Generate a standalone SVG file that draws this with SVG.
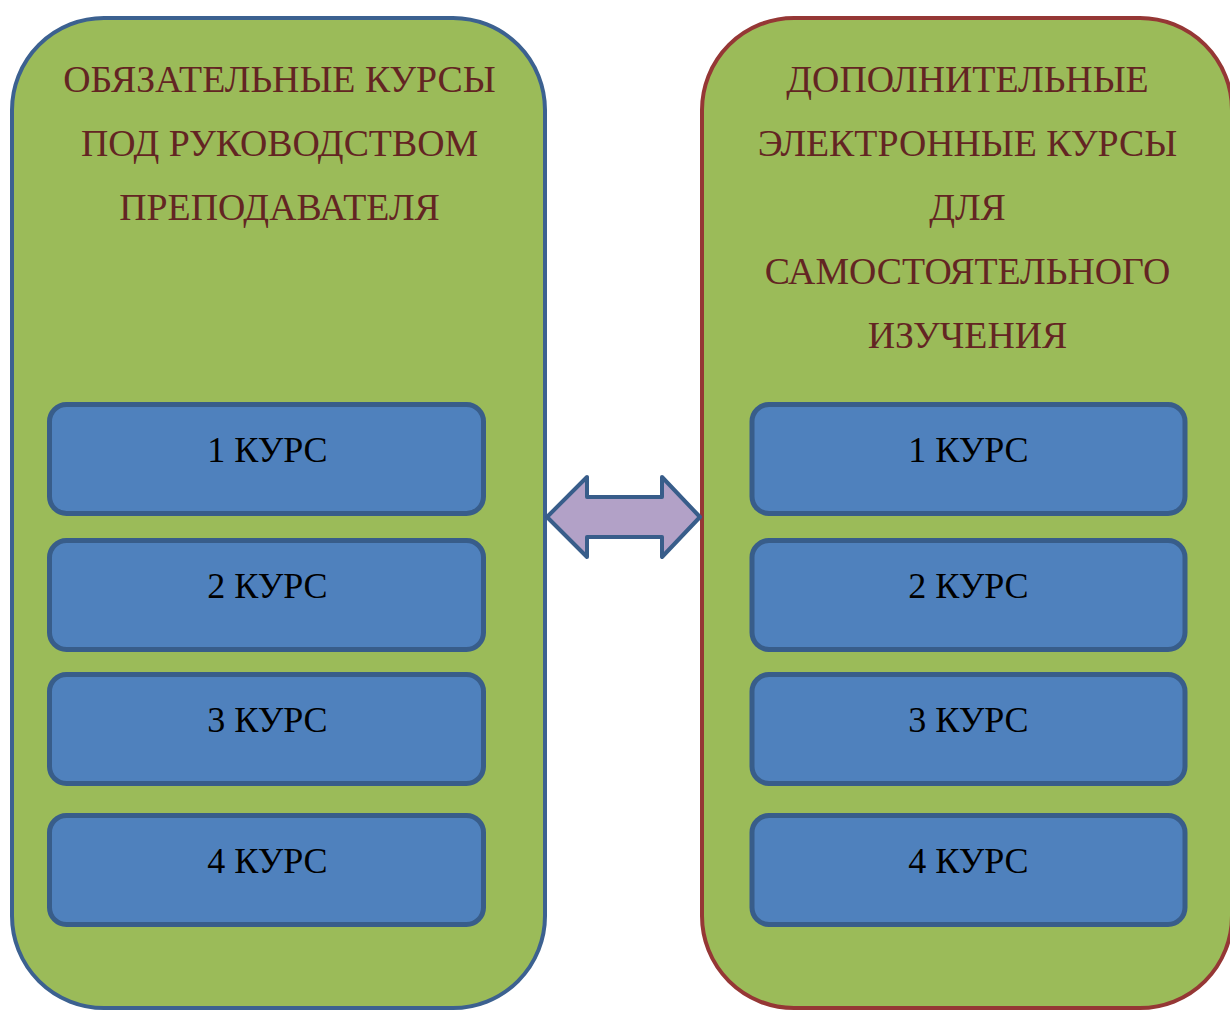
<svg xmlns="http://www.w3.org/2000/svg" width="1230" height="1012" viewBox="0 0 1230 1012">
  <style>
    .panel { fill: #9BBB59; stroke-width: 4; }
    .panel-left { stroke: #3C6190; }
    .panel-right { stroke: #953735; }
    .course { fill: #4F81BD; stroke: #385D8A; stroke-width: 5; }
    .title { font-family: "Liberation Serif", "Times New Roman", serif; font-size: 37.8px; fill: #632523; text-anchor: middle; }
    .label { font-family: "Liberation Serif", "Times New Roman", serif; font-size: 36px; fill: #000000; text-anchor: middle; }
    .link { fill: #B2A1C7; stroke: #385D8A; stroke-width: 4; stroke-linejoin: round; }
  </style>
  <rect width="1230" height="1012" fill="#FFFFFF"/>

  <!-- Left column: mandatory courses -->
  <g id="mandatory">
    <rect class="panel panel-left" x="12" y="18" width="533" height="990" rx="92" ry="92"/>
    <text class="title" x="279.5" y="92">ОБЯЗАТЕЛЬНЫЕ КУРСЫ</text>
    <text class="title" x="279.5" y="156">ПОД РУКОВОДСТВОМ</text>
    <text class="title" x="279.5" y="220">ПРЕПОДАВАТЕЛЯ</text>
  </g>
  <g id="mandatory-course-1">
    <rect class="course" x="49.5" y="404.5" width="434" height="109" rx="17"/>
    <text class="label" x="267.5" y="462">1 КУРС</text>
  </g>
  <g id="mandatory-course-2">
    <rect class="course" x="49.5" y="540.5" width="434" height="109" rx="17"/>
    <text class="label" x="267.5" y="598">2 КУРС</text>
  </g>
  <g id="mandatory-course-3">
    <rect class="course" x="49.5" y="674.5" width="434" height="109" rx="17"/>
    <text class="label" x="267.5" y="732">3 КУРС</text>
  </g>
  <g id="mandatory-course-4">
    <rect class="course" x="49.5" y="815.5" width="434" height="109" rx="17"/>
    <text class="label" x="267.5" y="873">4 КУРС</text>
  </g>

  <!-- Right column: additional e-courses for self-study -->
  <g id="additional">
    <rect class="panel panel-right" x="702" y="18" width="530" height="990" rx="92" ry="92"/>
    <text class="title" x="967.5" y="92">ДОПОЛНИТЕЛЬНЫЕ</text>
    <text class="title" x="967.5" y="156">ЭЛЕКТРОННЫЕ КУРСЫ</text>
    <text class="title" x="967.5" y="220">ДЛЯ</text>
    <text class="title" x="967.5" y="284">САМОСТОЯТЕЛЬНОГО</text>
    <text class="title" x="967.5" y="348">ИЗУЧЕНИЯ</text>
  </g>
  <g id="additional-course-1">
    <rect class="course" x="752" y="404.5" width="433" height="109" rx="17"/>
    <text class="label" x="968.5" y="462">1 КУРС</text>
  </g>
  <g id="additional-course-2">
    <rect class="course" x="752" y="540.5" width="433" height="109" rx="17"/>
    <text class="label" x="968.5" y="598">2 КУРС</text>
  </g>
  <g id="additional-course-3">
    <rect class="course" x="752" y="674.5" width="433" height="109" rx="17"/>
    <text class="label" x="968.5" y="732">3 КУРС</text>
  </g>
  <g id="additional-course-4">
    <rect class="course" x="752" y="815.5" width="433" height="109" rx="17"/>
    <text class="label" x="968.5" y="873">4 КУРС</text>
  </g>

  <!-- Two-way link between the columns -->
  <g id="connectors">
    <polygon class="link" points="547,517 587,477 587,497 662,497 662,477 700,517 662,557 662,537 587,537 587,557"/>
  </g>
</svg>
